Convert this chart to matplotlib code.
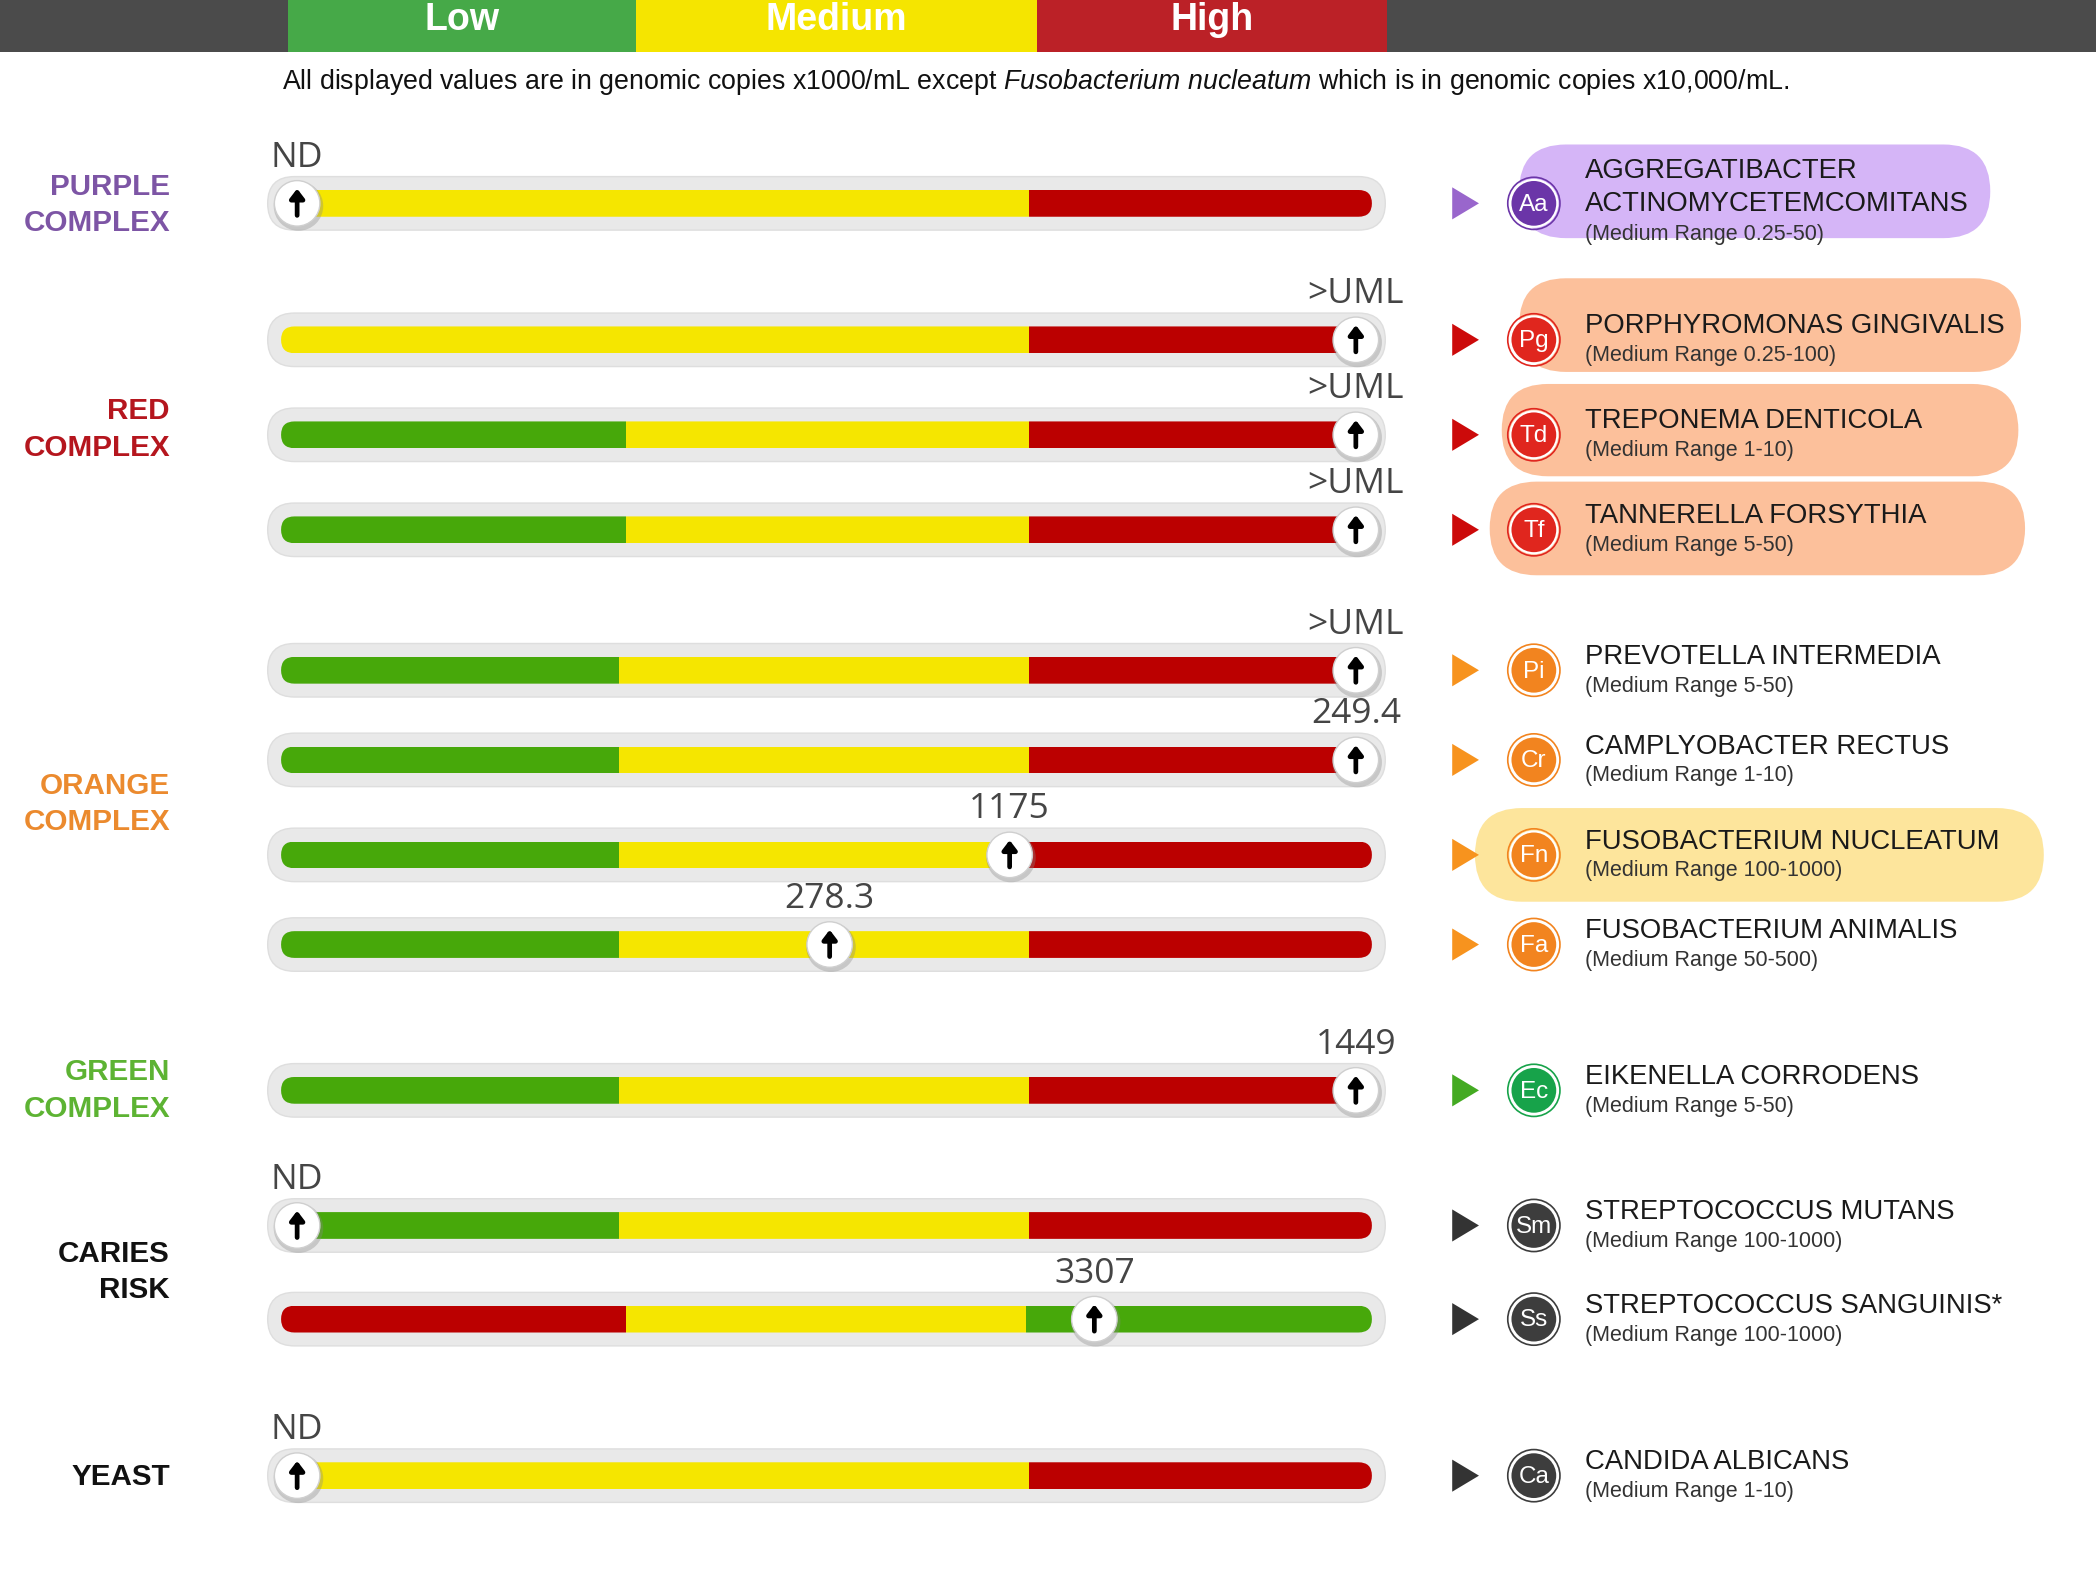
import matplotlib
matplotlib.use("Agg")
import matplotlib.pyplot as plt
from matplotlib.patches import FancyBboxPatch, Rectangle, Circle, Polygon

plt.rcParams['font.family'] = ['Liberation Sans', 'DejaVu Sans']
plt.rcParams['mathtext.fontset'] = 'custom'
plt.rcParams['mathtext.rm'] = 'Liberation Sans'
plt.rcParams['mathtext.it'] = 'Liberation Sans:italic'

# ---------------- data ----------------
legend_labels = ['Low', 'Medium', 'High']
legend_colors = ['#46a948', '#f5e500', '#bb2127']

subtitle = ("All displayed values are in genomic copies x1000/mL except "
            r"$\mathit{Fusobacterium\ nucleatum}$ which is in genomic copies x10,000/mL.")

groups = ['PURPLE\nCOMPLEX', 'RED\nCOMPLEX', 'ORANGE\nCOMPLEX', 'GREEN\nCOMPLEX', 'CARIES\nRISK', 'YEAST']
group_colors = ['#7d55a5', '#b5161e', '#eb8a2e', '#5db333', '#111111', '#111111']
group_rows = [[0], [1, 2, 3], [4, 5, 6, 7], [8], [9, 10], [11]]

codes = ['Aa', 'Pg', 'Td', 'Tf', 'Pi', 'Cr', 'Fn', 'Fa', 'Ec', 'Sm', 'Ss', 'Ca']
species = ['AGGREGATIBACTER\nACTINOMYCETEMCOMITANS', 'PORPHYROMONAS GINGIVALIS',
           'TREPONEMA DENTICOLA', 'TANNERELLA FORSYTHIA', 'PREVOTELLA INTERMEDIA',
           'CAMPLYOBACTER RECTUS', 'FUSOBACTERIUM NUCLEATUM', 'FUSOBACTERIUM ANIMALIS',
           'EIKENELLA CORRODENS', 'STREPTOCOCCUS MUTANS', 'STREPTOCOCCUS SANGUINIS*',
           'CANDIDA ALBICANS']
ranges = ['(Medium Range 0.25-50)', '(Medium Range 0.25-100)', '(Medium Range 1-10)',
          '(Medium Range 5-50)', '(Medium Range 5-50)', '(Medium Range 1-10)',
          '(Medium Range 100-1000)', '(Medium Range 50-500)', '(Medium Range 5-50)',
          '(Medium Range 100-1000)', '(Medium Range 100-1000)', '(Medium Range 1-10)']
value_labels = ['ND', '>UML', '>UML', '>UML', '>UML', '249.4', '1175', '278.3',
                '1449', 'ND', '3307', 'ND']
# marker position along the gauge scale (0-100)
marker_pos = [0, 100, 100, 100, 100, 100, 67.3, 50.3, 100, 0, 75.3, 0]
# gauge segment breakpoints (0-100) and colours
seg_breaks = [[0, 68.6, 100], [0, 68.6, 100], [0, 31.6, 68.6, 100], [0, 31.6, 68.6, 100],
              [0, 31.0, 68.6, 100], [0, 31.0, 68.6, 100], [0, 31.0, 68.6, 100],
              [0, 31.0, 68.6, 100], [0, 31.0, 68.6, 100], [0, 31.0, 68.6, 100],
              [0, 31.6, 68.3, 100], [0, 68.6, 100]]
seg_colors = [['Y', 'R'], ['Y', 'R'], ['G', 'Y', 'R'], ['G', 'Y', 'R'], ['G', 'Y', 'R'],
              ['G', 'Y', 'R'], ['G', 'Y', 'R'], ['G', 'Y', 'R'], ['G', 'Y', 'R'],
              ['G', 'Y', 'R'], ['R', 'Y', 'G'], ['Y', 'R']]
highlight = {'Aa': '#d5b5f7', 'Pg': '#fcc09b', 'Td': '#fcc09b', 'Tf': '#fcc09b', 'Fn': '#fde59c'}

# ---------------- styles / layout ----------------
COL = {'G': '#47a80a', 'Y': '#f5e600', 'R': '#bb0000'}
row_y = [152, 254, 325, 396, 501, 568, 639, 706, 815, 916, 986, 1103]
group_center = [153, 321, 601, 815, 951, 1104]
tri_colors = ['#9966cc', '#cc0a0a', '#f7931e', '#44aa22', '#333333', '#333333']
icon_colors = ['#6b35a8', '#e0261e', '#f2841f', '#17a34a', '#3d3d3d', '#3d3d3d']
pill_box = {'Aa': (1135, 1487, 108, 178), 'Pg': (1135, 1510, 208, 278),
            'Td': (1122, 1508, 287, 356), 'Tf': (1113, 1513, 360, 430),
            'Fn': (1102, 1527, 604, 674)}
W, H = 1566, 1178
BX0, BX1, BH = 210, 1025, 20
TX0, TX1, TH = 200, 1035, 40
MR = 12

fig = plt.figure(figsize=(20.96, 15.76), dpi=100)
ax = fig.add_axes([0, 0, 1, 1])
ax.set_xlim(0, W)
ax.set_ylim(H, 0)
ax.axis('off')

# header
ax.add_patch(Rectangle((0, 0), W, 39, facecolor='#4b4b4b', edgecolor='none'))
lx = [215, 475, 775, 1036]
for i, (lab, c) in enumerate(zip(legend_labels, legend_colors)):
    ax.add_patch(Rectangle((lx[i], 0), lx[i + 1] - lx[i], 39, facecolor=c, edgecolor='none'))
    ax.text((lx[i] + lx[i + 1]) / 2, 15, lab, ha='center', va='center', color='white',
            fontsize=27, fontweight='bold')

ax.text(211, 61, subtitle, ha='left', va='center', fontsize=19.3, color='#111111')

# group labels
for g, c, yc in zip(groups, group_colors, group_center):
    ax.text(127, yc, g, ha='right', va='center', ma='right', color=c, fontsize=21.3,
            fontweight='bold', linespacing=1.38)

row_group = {}
for gi, rows in enumerate(group_rows):
    for r in rows:
        row_group[r] = gi

for i, code in enumerate(codes):
    y = row_y[i]
    gi = row_group[i]
    # track
    ax.add_patch(FancyBboxPatch((TX0, y - TH / 2), TX1 - TX0, TH,
                                boxstyle=f"round,pad=0,rounding_size={TH / 2}",
                                facecolor='#e9e9e9', edgecolor='#dedede', lw=1))
    # coloured gauge
    clip = FancyBboxPatch((BX0, y - BH / 2), BX1 - BX0, BH,
                          boxstyle=f"round,pad=0,rounding_size={BH / 2}",
                          facecolor='none', edgecolor='none')
    ax.add_patch(clip)
    br = seg_breaks[i]
    for k, cc in enumerate(seg_colors[i]):
        xs = BX0 + br[k] / 100 * (BX1 - BX0)
        xe = BX0 + br[k + 1] / 100 * (BX1 - BX0)
        rect = Rectangle((xs, y - BH / 2), xe - xs, BH, facecolor=COL[cc], edgecolor='none')
        ax.add_patch(rect)
        rect.set_clip_path(clip)
    # marker
    mx = BX0 + MR + marker_pos[i] / 100 * (BX1 - BX0 - 2 * MR)
    ax.add_patch(Circle((mx + 1, y + 2), 18.5, facecolor='#888888', alpha=0.35, edgecolor='none'))
    ax.add_patch(Circle((mx, y), 17, facecolor='white', edgecolor='#cfcfcf', lw=1))
    ax.annotate('', xy=(mx, y - 11), xytext=(mx, y + 9),
                arrowprops=dict(arrowstyle='-|>,head_length=0.55,head_width=0.42',
                                lw=3.4, color='black', shrinkA=0, shrinkB=0))
    ax.text(mx, y - 34, value_labels[i], ha='center', va='center', fontsize=25.5,
            color='#454545', family=['Open Sans', 'DejaVu Sans'])

    # highlight pill
    if code in highlight:
        x0, x1, t, b = pill_box[code]
        h = b - t
        ax.add_patch(FancyBboxPatch((x0, t), x1 - x0, h,
                                    boxstyle=f"round,pad=0,rounding_size={h / 2}",
                                    facecolor=highlight[code], edgecolor='none'))
    # triangle
    ax.add_patch(Polygon([[1085, y - 12], [1085, y + 12], [1105, y]], closed=True,
                         facecolor=tri_colors[gi], edgecolor='none'))
    # icon
    ic = icon_colors[gi]
    ax.add_patch(Circle((1146, y), 19.5, facecolor='none', edgecolor=ic, lw=1.2))
    ax.add_patch(Circle((1146, y), 17.5, facecolor=ic, edgecolor='white', lw=1.5))
    ax.text(1146, y + 1, code, ha='center', va='center', color='white', fontsize=17.5)

    # names
    if '\n' in species[i]:
        ax.text(1184, y - 12, species[i], ha='left', va='center', fontsize=19.8,
                color='#1a1a1a', linespacing=1.33)
        ax.text(1184, y + 23, ranges[i], ha='left', va='center', fontsize=15.5, color='#333333')
    else:
        ax.text(1184, y - 10, species[i], ha='left', va='center', fontsize=19.8, color='#1a1a1a')
        ax.text(1184, y + 12, ranges[i], ha='left', va='center', fontsize=15.5, color='#333333')

fig.savefig('out.png', dpi=100)
